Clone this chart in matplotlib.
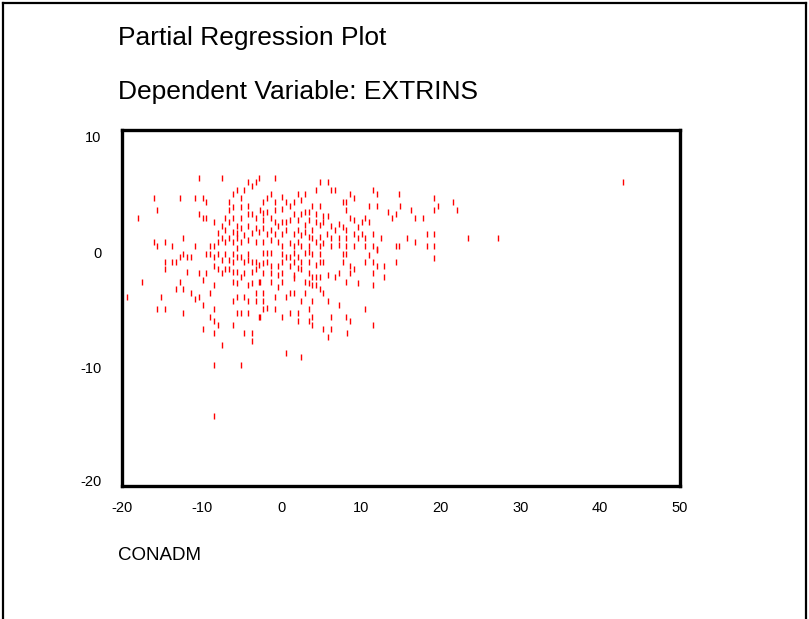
import matplotlib
matplotlib.use("Agg")
import matplotlib.pyplot as plt
from matplotlib.lines import Line2D
from matplotlib.transforms import ScaledTranslation

# ---------------- data ----------------
conadm = [
    -10.34, -7.49, -2.77, -4.19, -3.69, -3.22, -5.61, -6.11, -4.65, -16.02, -12.72, -10.84, -9.87,
    -9.42, -6.57, -5.11, -6.11, -5.11, -4.19, -15.61, -10.34, -9.87, -9.42, -17.95, -6.57, -4.19,
    -3.69, -3.22, -5.11, -6.11, -8.46, -7.04, -6.57, -7.49, -5.61, -5.11, -4.19, -3.22, -7.04,
    -6.11, -5.61, -4.65, -3.69, -2.77, -7.99, -12.31, -7.49, -6.57, -6.11, -5.61, -5.11, -4.19,
    -3.22, -16.02, -14.60, -7.99, -7.04, -15.61, -13.69, -10.84, -8.96, -8.46, -5.61,
    # block 2
    -12.31, -12.72, -11.81, -11.30, -9.42, -8.96, -8.46, -7.99, -7.49, -7.04, -6.57, -6.11, -5.61,
    -5.11, -4.19, -4.19, -3.69, -3.22, -4.65, -6.11, -14.60, -13.69, -13.22, -14.60, -11.81, -10.34,
    -9.42, -8.46, -7.99, -7.49, -7.04, -6.57, -6.11, -5.61, -5.11, -4.65, -3.69, -3.22, -2.77,
    -17.49, -12.72, -9.87, -8.46, -6.11, -5.61, -4.19, -3.69, -2.77, -13.22, -12.31, -11.30, -10.84,
    -10.34, -8.96, -9.87, -19.41, -15.10, -5.61, -4.65, -4.19, -3.22, -3.22, -6.11, -15.61, -14.60,
    -12.31, -8.46, -5.61, -5.11, -4.19, -8.96, -8.46, -7.99, -6.11, -2.77, -9.87,
    # block 3
    -0.84, 4.84, 5.85, 4.34, 6.26, 6.72, 11.53, 11.96, 8.61, 9.11, -2.27, -1.84, -1.30, -0.84, 0.08,
    0.58, 1.08, 1.54, 2.04, 2.50, 2.96, 3.88, 4.84, 7.69, 8.14, 10.99, 11.96, 14.79, 13.37, 13.87,
    14.34, -2.68, -2.27, -1.84, -1.30, -0.84, 0.08, 1.54, 2.50, 2.96, 3.46, 4.34, 5.26, 5.85, 8.14,
    8.61, 9.11, 10.07, 10.53, 10.99, -2.27, -0.84, -0.39, 0.08, 0.58, 1.08, 2.04, 2.96, 3.46, 3.88,
    4.34, 4.84, 5.26, 6.26, 7.23, 7.69, 6.72, 8.14, 9.11, 9.57, 10.07, 11.49, 12.46, -2.27, -1.84,
    -1.30, -0.84, 0.08, 0.58, 1.54, 2.04, 2.50, 2.96, 3.46, 3.88, 4.84, 5.72, 6.26, 7.23, 8.14, 9.57,
    10.53, 14.34, 14.79, -2.27, -1.30, -0.39, 0.08, 1.08, 1.54, 2.04, 2.50, 3.46, 4.34, 4.84, 5.26,
    6.26, 7.23, 8.14, 9.11, 10.53, 11.49, 11.96,
    # block 4
    -2.27, -1.84, -1.30, 0.08, 0.58, 1.08, 1.54, 2.04, 2.96, 3.46, 3.88, 4.84, 7.69, 8.14, 10.99,
    11.96, -2.27, -1.84, -1.30, -0.39, 0.08, 1.08, 1.54, 2.04, 2.50, 3.46, 4.34, 4.84, 5.26, 7.69,
    8.61, 9.11, 10.53, 11.49, 11.96, 12.91, 14.34, -2.27, -1.30, -0.39, 0.08, 1.54, 2.50, 3.46, 3.88,
    4.34, 4.84, 5.85, 6.72, 7.23, 8.61, 11.49, 12.91, -2.68, -1.30, -0.39, 0.08, 1.54, 2.96, 3.46,
    3.88, 4.34, 4.84, 8.14, 9.57, 11.49, -2.27, -0.84, 0.58, 1.08, 1.54, 2.96, 5.26, 2.50, 3.88, 5.85,
    7.23, -2.27, -2.27, -1.84, -0.84, 1.08, 2.04, 3.46, 10.53, -2.68, 0.08, 2.04, 3.46, 3.88, 6.26,
    8.14, 8.61, 3.88, 11.49, 5.26, 6.26,
    # block 5 (right side)
    19.14, 14.88, 19.61, 21.53, 16.26, 19.14, 22.03, 16.76, 17.73, 15.79, 18.23, 19.14, 23.41, 27.21,
    16.76, 18.23, 19.14, 19.14, 42.89,
    # block 6 (low values)
    -8.46, -4.65, -3.69, -3.69, -7.49, 0.58, -8.46, -5.11, -8.46, 5.81, 8.19, 2.50,
]

extrins = [
    5.93, 5.93, 5.93, 5.59, 5.26, 5.59, 4.92, 4.58, 4.92, 4.24, 4.24, 4.24, 4.24,
    3.91, 3.91, 4.24, 3.54, 3.54, 3.60, 3.23, 2.92, 2.58, 2.58, 2.58, 3.23, 2.92,
    2.92, 2.58, 2.58, 2.58, 2.25, 2.58, 2.25, 1.91, 1.91, 1.74, 1.91, 1.74, 1.57,
    1.43, 1.32, 1.15, 1.32, 1.43, 1.32, 0.90, 0.90, 0.90, 0.59, 0.90, 0.59, 0.73,
    0.59, 0.59, 0.59, 0.59, 0.59, 0.22, 0.22, 0.22, 0.22, 0.22, 0.06,
    # block 2
    -0.45, -0.73, -0.73, -0.73, -0.45, -0.45, -0.73, -0.45, -0.95, -0.45, -0.95, -0.45, -0.68,
    -0.73, -0.45, -0.95, -1.10, -1.10, -1.10, -1.10, -1.10, -1.10, -1.10, -1.74, -1.94, -2.08,
    -2.08, -1.44, -1.74, -2.08, -1.74, -1.74, -1.94, -1.94, -2.41, -2.08, -1.94, -1.74, -1.38,
    -2.78, -2.78, -2.64, -3.09, -2.78, -2.92, -3.09, -2.92, -2.78, -3.42, -3.42, -3.76, -4.27,
    -4.10, -3.76, -4.75, -4.10, -4.10, -4.10, -4.10, -4.41, -3.76, -4.41, -4.41, -5.11, -5.11,
    -5.45, -5.11, -5.45, -5.45, -5.45, -5.78, -6.10, -6.43, -6.43, -5.78, -6.79,
    # block 3
    5.93, 5.59, 5.59, 4.92, 4.92, 4.92, 4.92, 4.58, 4.58, 4.24, 3.91, 4.24, 4.58, 3.91, 4.38,
    3.91, 3.57, 3.91, 4.58, 4.10, 4.58, 3.57, 3.57, 3.91, 3.91, 3.57, 3.57, 4.58, 3.12, 2.56,
    2.90, 3.26, 2.98, 3.12, 2.56, 3.23, 3.32, 2.90, 2.90, 3.12, 3.12, 2.90, 2.78, 2.78, 3.23,
    2.56, 2.42, 2.22, 2.56, 2.22, 2.42, 2.22, 1.91, 2.22, 2.22, 2.42, 2.42, 2.00, 2.42, 1.57,
    2.22, 2.00, 2.22, 1.91, 2.08, 1.85, 1.57, 1.57, 1.24, 1.85, 1.24, 1.24, 0.90, 1.72, 1.24,
    1.57, 1.24, 1.24, 1.57, 1.24, 1.57, 1.15, 1.43, 1.01, 0.90, 1.01, 1.24, 0.90, 0.90, 0.90, 0.90,
    0.90, 0.22, 0.22, 0.59, 0.73, 0.59, 0.22, 0.45, 0.22, 0.59, 0.22, 0.22, 0.59, 0.22, 0.45,
    0.22, 0.31, 0.22, 0.22, 0.22, 0.22, -0.03,
    # block 4
    -0.39, -0.39, -0.39, -0.45, -0.68, -0.73, -0.39, -0.73, -0.39, -0.26, -0.45, -0.45, -0.45, -0.45, -0.53,
    -0.11, -1.23, -1.10, -1.44, -1.44, -1.10, -1.44, -1.10, -1.65, -1.10, -1.10, -1.38, -1.10, -1.10, -1.10,
    -1.44, -1.74, -1.10, -1.10, -1.44, -1.44, -1.10, -2.08, -2.08, -2.22, -2.08, -2.22, -1.74, -2.08, -2.41,
    -2.41, -2.41, -2.22, -2.41, -2.08, -2.08, -2.08, -2.41, -2.78, -2.78, -3.20, -2.78, -2.50, -2.78, -2.92,
    -3.06, -3.06, -3.42, -2.78, -2.92, -3.06, -3.76, -4.10, -4.10, -3.76, -3.76, -3.76, -3.76, -4.41, -4.41, -4.41,
    -4.75, -4.41, -5.11, -5.03, -5.11, -5.45, -5.45, -5.11, -5.11, -5.78, -5.78, -6.10, -6.10, -5.78, -5.78,
    -5.78, -6.10, -6.43, -6.43, -6.74, -6.74,
    # block 5
    4.24, 3.57, 3.57, 3.91, 3.23, 3.23, 3.23, 2.56, 2.56, 0.90, 1.24, 1.24, 0.90, 0.90,
    0.56, 0.22, 0.22, -0.79, 5.59,
    # block 6
    -7.13, -7.13, -7.13, -7.78, -8.12, -8.77, -9.80, -9.80, -14.10, -7.42, -7.08, -9.10,
]

x_ticks = [-20, -10, 0, 10, 20, 30, 40, 50]
y_ticks = [-20, -10, 0, 10]
title_line1 = "Partial Regression Plot"
title_line2 = "Dependent Variable: EXTRINS"
x_label = "CONADM"

# ---------------- figure ----------------
W, H = 809, 619
fig = plt.figure(figsize=(W / 100, H / 100), dpi=100)
fig.patch.set_facecolor("white")

FONT = ["Liberation Sans", "DejaVu Sans"]

ax = fig.add_axes([122 / W, 1 - 486 / H, (680 - 122) / W, (486 - 130) / H])
ax.plot(conadm, extrins, linestyle="none", marker="|",
        markersize=4.0, markeredgewidth=1.0, color="#ff0000")
ax.set_xlim(-20, 50)
ax.set_ylim(-20, 10)
ax.set_xticks(x_ticks)
ax.set_yticks(y_ticks)
ax.set_xticklabels([str(v) for v in x_ticks], fontfamily=FONT, fontsize=10.5)
ax.set_yticklabels([str(v) for v in y_ticks], fontfamily=FONT, fontsize=10.5)
ax.tick_params(axis="both", length=0)
ax.tick_params(axis="x", pad=11)
ax.tick_params(axis="y", pad=15)
for s in ax.spines.values():
    s.set_linewidth(2.4)
    s.set_color("black")

# small vertical nudges of the y tick labels, as in the reference
nudges = {10: -7, 0: -4, -10: 0, -20: 5}
for lab, val in zip(ax.get_yticklabels(), y_ticks):
    lab.set_transform(lab.get_transform() + ScaledTranslation(0, nudges[val] / 100, fig.dpi_scale_trans))

fig.text(118 / W, 1 - 38 / H, title_line1, fontfamily=FONT, fontsize=19,
         ha="left", va="center")
fig.text(118 / W, 1 - 92 / H, title_line2, fontfamily=FONT, fontsize=19,
         ha="left", va="center")
fig.text(118 / W, 1 - 555 / H, x_label, fontfamily=FONT, fontsize=13.5,
         ha="left", va="center")

# outer frame of the chart window (left, top, right edges)
lw = 1.6
fig.add_artist(Line2D([3 / W, 3 / W], [0, 1 - 3 / H], transform=fig.transFigure, color="black", lw=lw))
fig.add_artist(Line2D([3 / W, 806 / W], [1 - 3 / H, 1 - 3 / H], transform=fig.transFigure, color="black", lw=lw))
fig.add_artist(Line2D([806 / W, 806 / W], [0, 1 - 3 / H], transform=fig.transFigure, color="black", lw=lw))

fig.savefig("out.png", dpi=100, facecolor="white")
